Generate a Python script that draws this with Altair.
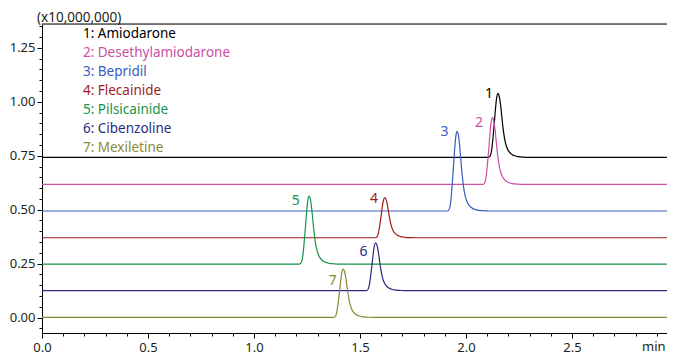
import altair as alt
import pandas as pd

# ---- data ----
names = ["1: Amiodarone", "2: Desethylamiodarone", "3: Bepridil", "4: Flecainide",
         "5: Pilsicainide", "6: Cibenzoline", "7: Mexiletine"]
peak_ids = ["1", "2", "3", "4", "5", "6", "7"]
colors = ["#000000", "#cc4fa6", "#3a5cbf", "#9e1d1d", "#149448", "#28297f", "#8a8a36"]
rt = [2.151, 2.125, 1.958, 1.617, 1.260, 1.574, 1.421]      # retention time (min)
base = [0.742, 0.617, 0.494, 0.370, 0.248, 0.125, 0.001]    # baseline (x10,000,000)
apex = [1.039, 0.926, 0.863, 0.556, 0.563, 0.347, 0.225]    # peak top (x10,000,000)
# peak shape: time offset from apex, fraction of peak height
profile_dt = [-0.045, -0.036, -0.030, -0.024, -0.018, -0.012, -0.006, 0.0, 0.006, 0.012,
              0.018, 0.024, 0.030, 0.038, 0.048, 0.060, 0.075, 0.095, 0.120, 0.150]
profile_frac = [0.0, 0.03, 0.12, 0.30, 0.52, 0.76, 0.94, 1.0, 0.95, 0.82,
                0.63, 0.45, 0.31, 0.19, 0.11, 0.06, 0.03, 0.012, 0.004, 0.0]
# peak number labels
lab_x = [2.108, 2.061, 1.898, 1.566, 1.197, 1.517, 1.371]
lab_y = [1.034, 0.900, 0.858, 0.548, 0.540, 0.306, 0.171]
x_ticks = [round(i * 0.1, 1) for i in range(0, 30)]
y_ticks = [round(-0.05 + i * 0.05, 2) for i in range(0, 29)]

XMAX = 2.948
YMIN, YMAX = -0.071, 1.360
W, H = 625, 309
FONT = "Noto Sans"
TXT = "#231f20"

rows = []
for i, n in enumerate(names):
    pts = [(0.0, base[i])]
    for dt, f in zip(profile_dt, profile_frac):
        pts.append((rt[i] + dt, base[i] + f * (apex[i] - base[i])))
    pts.append((XMAX, base[i]))
    for k, (t, v) in enumerate(pts):
        rows.append({"name": n, "t": t, "v": v, "k": k})
df = pd.DataFrame(rows)

leg = pd.DataFrame({"name": names, "i": list(range(len(names)))})
labs = pd.DataFrame({"name": names, "id": peak_ids, "x": lab_x, "y": lab_y})

xscale = alt.Scale(domain=[0, XMAX], nice=False, zero=False)
yscale = alt.Scale(domain=[YMIN, YMAX], nice=False, zero=False)
cscale = alt.Scale(domain=names, range=colors)

xaxis = alt.Axis(
    values=x_ticks, title=None, grid=False, labelOverlap=False, labelFlush=False, labelBound=False,
    labelExpr="abs(datum.value*2 - round(datum.value*2)) < 0.001 ? format(datum.value, '.1f') : ''",
    tickSize={"condition": {"test": "abs(datum.value*2 - round(datum.value*2)) < 0.001", "value": 5}, "value": 3},
    labelPadding=3, labelFont=FONT, labelFontSize=13, labelColor=TXT,
    domainColor="#000000", tickColor="#000000", domainWidth=1, tickWidth=1,
)
yaxis = alt.Axis(
    values=y_ticks, title=None, grid=False, labelOverlap=False, labelFlush=False, labelBound=False,
    labelExpr="abs(datum.value*4 - round(datum.value*4)) < 0.001 ? format(datum.value, '.2f') : ''",
    tickSize={"condition": {"test": "abs(datum.value*4 - round(datum.value*4)) < 0.001", "value": 5}, "value": 3},
    labelPadding=2, labelFont=FONT, labelFontSize=13, labelColor=TXT,
    domainColor="#000000", tickColor="#000000", domainWidth=1, tickWidth=1,
)

lines = alt.Chart(df).mark_line(strokeWidth=1.2, interpolate="monotone", clip=True).encode(
    x=alt.X("t:Q", scale=xscale, axis=xaxis),
    y=alt.Y("v:Q", scale=yscale, axis=yaxis),
    color=alt.Color("name:N", scale=cscale, legend=None),
    order=alt.Order("k:Q"),
)

legend_txt = alt.Chart(leg).transform_calculate(
    lx="0.193", ly="1.312 - 0.0875*datum.i"
).mark_text(align="left", baseline="middle", font=FONT, fontSize=13.5).encode(
    x=alt.X("lx:Q", scale=xscale, axis=xaxis),
    y=alt.Y("ly:Q", scale=yscale, axis=yaxis),
    text="name:N",
    color=alt.Color("name:N", scale=cscale, legend=None),
)

peak_txt = alt.Chart(labs).mark_text(align="center", baseline="middle", font=FONT, fontSize=14).encode(
    x=alt.X("x:Q", scale=xscale, axis=xaxis),
    y=alt.Y("y:Q", scale=yscale, axis=yaxis),
    text="id:N",
    color=alt.Color("name:N", scale=cscale, legend=None),
)

top_rule = alt.Chart(pd.DataFrame({"a": [0]})).mark_rule(color="#000000", strokeWidth=1).encode(
    x=alt.value(0), x2=alt.value(W), y=alt.value(0)
)

unit_txt = alt.Chart(pd.DataFrame({"s": ["(x10,000,000)"]})).mark_text(
    align="left", baseline="middle", font=FONT, fontSize=13.5, color=TXT
).encode(x=alt.value(-5), y=alt.value(-6), text="s:N")

min_txt = alt.Chart(pd.DataFrame({"s": ["min"]})).mark_text(
    align="left", baseline="top", font=FONT, fontSize=13, color=TXT
).encode(x=alt.value(600), y=alt.value(H + 8), text="s:N")

chart = alt.layer(lines, legend_txt, peak_txt, top_rule, unit_txt, min_txt).properties(
    width=W, height=H,
    autosize=alt.AutoSizeParams(type="none"),
    padding={"left": 34, "top": 16, "right": 0, "bottom": 21},
).configure_view(stroke=None).configure(background="white")

chart.save("out.html", embed_options={"renderer": "svg", "actions": False})
